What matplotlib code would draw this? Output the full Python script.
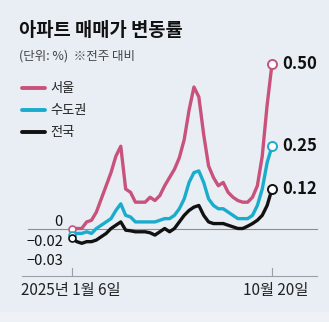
import numpy as np
import matplotlib.pyplot as plt
from matplotlib.patches import Rectangle

plt.rcParams['font.family'] = ['Noto Sans CJK KR', 'DejaVu Sans']

# 주간 아파트 매매가 변동률 (2025-01-06 ~ 10-20, 전주 대비 %)
seoul = [0.00, 0.00, 0.00, 0.02, 0.025, 0.05, 0.09, 0.13, 0.17, 0.22, 0.25,
         0.12, 0.11, 0.08, 0.08, 0.08, 0.095, 0.085, 0.10, 0.13, 0.155,
         0.18, 0.215, 0.27, 0.36, 0.43, 0.40, 0.285, 0.19, 0.155, 0.13,
         0.14, 0.11, 0.095, 0.085, 0.08, 0.08, 0.095, 0.13, 0.22, 0.375, 0.50]
capital = [-0.02, -0.015, -0.015, -0.01, -0.015, 0.00, 0.01, 0.02, 0.03, 0.055,
           0.075, 0.04, 0.035, 0.02, 0.02, 0.02, 0.02, 0.02, 0.025, 0.03, 0.03,
           0.04, 0.06, 0.09, 0.14, 0.17, 0.175, 0.14, 0.09, 0.07, 0.06, 0.06,
           0.05, 0.04, 0.03, 0.03, 0.03, 0.04, 0.07, 0.12, 0.20, 0.25]
nation = [-0.03, -0.04, -0.045, -0.04, -0.04, -0.035, -0.025, -0.015, 0.00,
          0.01, 0.02, -0.005, -0.007, -0.01, -0.01, -0.01, -0.013, -0.02,
          -0.01, 0.00, -0.01, 0.00, 0.02, 0.04, 0.055, 0.065, 0.07, 0.04,
          0.02, 0.015, 0.015, 0.015, 0.01, 0.005, 0.00, 0.00, 0.007, 0.015,
          0.025, 0.04, 0.07, 0.12]
series_names = ['서울', '수도권', '전국']
colors = ['#c9527c', '#1aaccd', '#111111']
start_labels = ['0', '−0.02', '−0.03']
end_labels = ['0.50', '0.25', '0.12']
x_labels = ['2025년 1월 6일', '10월 20일']

W, H = 329, 322
fig = plt.figure(figsize=(W / 100, H / 100), dpi=100)
fig.patch.set_facecolor('#e8eef4')
ax = fig.add_axes([0, 0, 1, 1])
ax.set_facecolor('#e8eef4')

# 픽셀 -> 데이터 좌표 맞추기
x0px, dx = 72, 200 / 41
y0px, dy = 228.5, 329
ax.set_xlim(-x0px / dx, (W - x0px) / dx)
ax.set_ylim(-(H - y0px) / dy, y0px / dy)
ax.axis('off')

def px(x, y):
    return (x - x0px) / dx, (y0px - y) / dy

ax.add_patch(Rectangle(px(0, H), W / dx, (H - 312) / dy, color='#eef2f6', zorder=0))

n = len(seoul)
xs = np.arange(n)

# 0 기준선, 아래 축
ax.plot([px(28, 0)[0], px(317, 0)[0]], [0, 0], color='#8a8f95', lw=0.8, zorder=1)
bx0, by = px(22, 276)
bx1, _ = px(317, 276)
ax.plot([bx0, bx1], [by, by], color='#9aa0a6', lw=0.8, zorder=1)
for xi in [0, n - 1]:
    ax.plot([xi, xi], [by, px(0, 268)[1]], color='#9aa0a6', lw=0.8, zorder=1)

for vals, c, lab in zip([seoul, capital, nation], colors, end_labels):
    ax.plot(xs, vals, color=c, lw=2.4, zorder=3, solid_joinstyle='round')
    ax.plot([0], [vals[0]], 'o', ms=5, mfc='white', mec=c, mew=1.2, zorder=4)
    ax.plot([n - 1], [vals[-1]], 'o', ms=6.5, mfc='white', mec=c, mew=1.4,
            zorder=4)
    ax.text(n - 1 + 2.2, vals[-1], lab, fontsize=12, fontweight='bold',
            va='center', ha='left', color='#111111')

for lab, ypx in zip(start_labels, [222, 242, 261]):
    ax.text(*px(63, ypx), lab, fontsize=10.5, ha='right', va='center',
            color='#111111')

# 범례
for name, c, ypx in zip(series_names, colors, [88, 110, 132]):
    lx0, ly = px(22, ypx)
    lx1, _ = px(45, ypx)
    ax.plot([lx0, lx1], [ly, ly], color=c, lw=2.8, solid_capstyle='round')
    ax.text(*px(50, ypx), name, fontsize=9.5, va='center', ha='left',
            color='#222222')

ax.text(*px(19, 30), '아파트 매매가 변동률', fontsize=13.5, fontweight='bold',
        va='center', ha='left', color='#111111')
ax.text(*px(19, 56), '(단위: %)  ※전주 대비', fontsize=9, va='center',
        ha='left', color='#444444')

ax.text(*px(21, 290), x_labels[0], fontsize=11, va='center', ha='left',
        color='#222222')
ax.text(*px(308, 290), x_labels[1], fontsize=11, va='center', ha='right',
        color='#222222')

fig.savefig('out.png', dpi=100, facecolor=fig.get_facecolor())
